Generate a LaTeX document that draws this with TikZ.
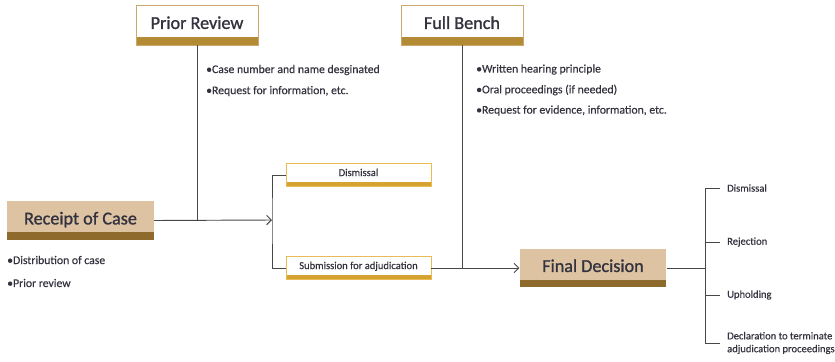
\documentclass[tikz,border=0pt]{standalone}
\usepackage{fontspec}
\setmainfont{Carlito}
\usepackage{tikz}
\usetikzlibrary{arrows, arrows.meta}
\definecolor{tan}{HTML}{DEC3A3}
\definecolor{umber}{HTML}{8E6A2C}
\definecolor{gold}{HTML}{B38B34}
\definecolor{edge}{HTML}{CDA86C}
\definecolor{amber}{HTML}{D6A332}
\definecolor{amberedge}{HTML}{E8BC55}
\definecolor{ink}{HTML}{33333F}
\definecolor{wire}{HTML}{474747}
\tikzstyle{stage}=[fill=tan, minimum width=4.4cm, minimum height=1.15cm, text depth=.4em, font=\fontsize{15.5}{17}\selectfont\addfontfeature{FakeBold=1.2}, text=ink, path picture={\fill[umber] (path picture bounding box.south west) rectangle ([yshift=.22cm]path picture bounding box.south east);}]
\tikzstyle{panel}=[draw=edge, fill=white, minimum width=3.66cm, minimum height=1.2cm, text depth=.4em, font=\fontsize{15.5}{17}\selectfont\addfontfeature{FakeBold=1.2}, text=ink, path picture={\fill[gold] (path picture bounding box.south west) rectangle ([yshift=.24cm]path picture bounding box.south east);}]
\tikzstyle{branch}=[draw=amberedge, fill=white, minimum width=4.35cm, minimum height=.7cm, text depth=.45em, font=\fontsize{9}{10}\selectfont\addfontfeature{FakeBold=.4}, text=ink, path picture={\fill[amber] (path picture bounding box.south west) rectangle ([yshift=.15cm]path picture bounding box.south east);}]
\tikzstyle{note}=[anchor=west, inner sep=0pt, font=\fontsize{10}{11}\selectfont\addfontfeature{FakeBold=.4}, text=ink]
\tikzstyle{outcome}=[anchor=west, inner xsep=.21cm, inner ysep=0pt, align=left, font=\fontsize{9}{11}\selectfont\addfontfeature{FakeBold=.4}, text=ink]
\tikzstyle{link}=[draw=wire, line width=.8pt]
\tikzstyle{feed}=[-{Straight Barb[length=4pt, width=8pt]}]

\begin{document}
\begin{tikzpicture}[x=.03cm, y=-.03cm]
    \useasboundingbox (0,0) rectangle (835,361);

    \node[stage] (receipt) at (80.5,220.5) {Receipt of Case};
    \node[panel] (prior) at (197,25) {Prior Review};
    \node[panel] (bench) at (462,25) {Full Bench};
    \node[branch] (dismiss) at (358.5,175) {Dismissal};
    \node[branch] (submit) at (358.5,268) {Submission for adjudication};
    \node[stage] (final) at (593,268) {Final Decision};

    \coordinate (split) at (272,220);
    \coordinate (fork) at (705,268);

    \foreach \t [count = \i] in {Distribution of case, Prior review}
        \node[note] (rc\i) at (7, 237 + 23*\i) {•\t};
    \foreach \t [count = \i] in {Case number and name desginated, Request for information{,} etc.}
        \node[note] (pr\i) at (206, 49 + 21*\i) {•\t};
    \foreach \t [count = \i] in {Written hearing principle, Oral proceedings (if needed), Request for evidence{,} information{,} etc.}
        \node[note] (fb\i) at (476, 49 + 20.5*\i) {•\t};

    \node[outcome] (o1) at (720,188) {Dismissal};
    \node[outcome] (o2) at (720,242) {Rejection};
    \node[outcome] (o3) at (720,295) {Upholding};
    \node[outcome] (o4) at (720,343) {Declaration to terminate\\adjudication proceedings};

    \draw[link, feed] (receipt.east) -- (split);
    \draw[link] (prior.south) -- (prior.south |- split);
    \draw[link] (dismiss.west) -| (split) |- (submit.west);
    \draw[link] (bench.south) -- (bench.south |- submit.east);
    \draw[link, feed] (submit.east) -- (final.west);
    \draw[link] (final.east) -- (fork);
    \draw[link] (fork |- o1.west) -- (fork |- o4.west);
    \foreach \o in {o1,o2,o3,o4}
        \draw[link] (fork |- \o.west) -- (\o.west);

\end{tikzpicture}
\end{document}
